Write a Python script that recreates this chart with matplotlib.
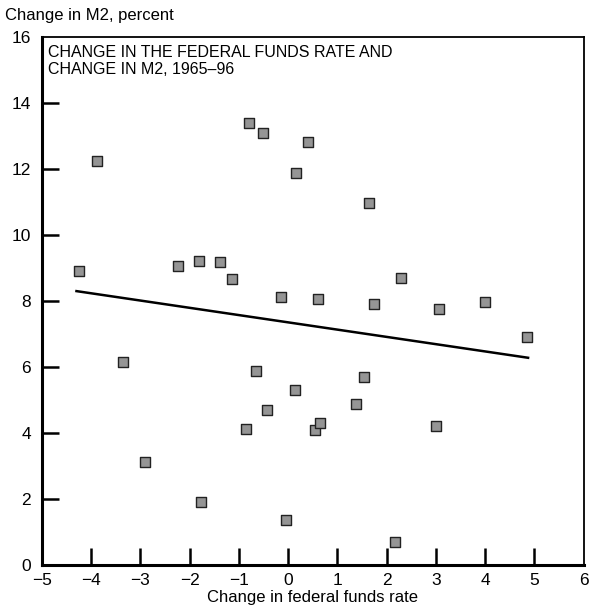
import matplotlib.pyplot as plt

# annual change in fed funds rate vs annual M2 growth, 1965-96
ffr_change = [-4.25, -3.89, -3.35, -2.91, -2.24, -1.81, -1.77, -1.38, -1.14, -0.86,
              -0.80, -0.65, -0.51, -0.44, -0.15, -0.05, 0.14, 0.16, 0.41, 0.55,
              0.60, 0.64, 1.38, 1.53, 1.65, 1.75, 2.16, 2.28, 3.00, 3.06,
              3.99, 4.84]
m2_change = [8.90, 12.24, 6.16, 3.13, 9.06, 9.21, 1.91, 9.18, 8.67, 4.12,
             13.40, 5.87, 13.10, 4.70, 8.12, 1.37, 5.29, 11.89, 12.81, 4.10,
             8.07, 4.29, 4.87, 5.71, 10.97, 7.90, 0.71, 8.70, 4.20, 7.77,
             7.96, 6.92]

# fitted trend line endpoints
trend_x = [-4.3, 4.87]
trend_y = [8.30, 6.28]

plt.rcParams['font.family'] = ['Liberation Sans', 'DejaVu Sans']

fig = plt.figure(figsize=(5.94, 6.12), dpi=100)
ax = fig.add_axes([0.0707, 0.0768, 0.912, 0.8627])

ax.plot(trend_x, trend_y, color='black', lw=1.8, zorder=2)
ax.scatter(ffr_change, m2_change, marker='s', s=52, facecolor='#959595',
           edgecolor='#222222', linewidth=1.0, zorder=3)

ax.set_xlim(-5, 6)
ax.set_ylim(0, 16)
ax.set_xticks(range(-5, 7))
ax.set_yticks(range(0, 17, 2))
ax.set_xticklabels([str(v).replace('-', '\u2212') for v in range(-5, 7)])

ax.tick_params(direction='in', length=12, width=1.8, labelsize=12.5, color='black')
ax.tick_params(axis='x', pad=6)
ax.tick_params(axis='y', pad=8)
# hide the tick marks that would sit on the frame corners
for t in ax.xaxis.get_major_ticks()[::11]:
    t.tick1line.set_visible(False)
for t in ax.yaxis.get_major_ticks()[::8]:
    t.tick1line.set_visible(False)

ax.spines['left'].set_linewidth(2.2)
ax.spines['bottom'].set_linewidth(2.2)
ax.spines['top'].set_linewidth(1.3)
ax.spines['right'].set_linewidth(1.3)

ax.text(0.012, 0.985, 'CHANGE IN THE FEDERAL FUNDS RATE AND\nCHANGE IN M2, 1965\u201396',
        transform=ax.transAxes, ha='left', va='top', fontsize=11.5, linespacing=1.15)

fig.text(0.008, 0.975, 'Change in M2, percent', ha='left', va='center', fontsize=12)
ax.set_xlabel('Change in federal funds rate', fontsize=12, labelpad=1)

fig.savefig('out.png', dpi=100)
